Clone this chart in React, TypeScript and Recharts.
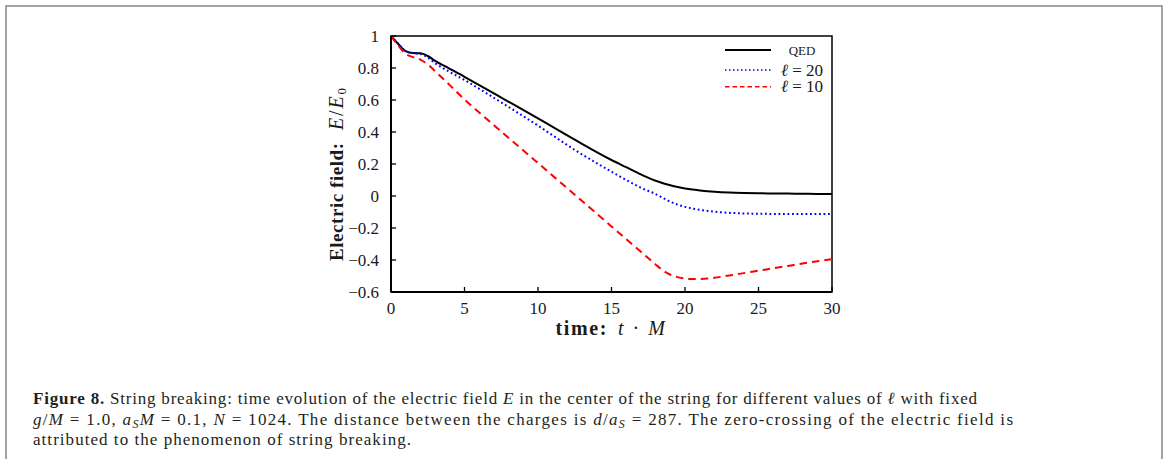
import React from 'react';
import { LineChart, Line, XAxis, YAxis, Legend, ReferenceArea } from 'recharts';

// ---- data ----
const times = [0, 0.5, 1, 1.5, 2, 2.5, 3, 4, 5, 6, 7.5, 10, 12.5, 15, 16, 17, 18, 18.5, 19, 19.5, 20, 20.5, 21, 22, 23, 24, 25, 26, 27, 28, 29, 30];
const qed = [1.0, 0.95, 0.905, 0.893, 0.892, 0.875, 0.845, 0.795, 0.745, 0.693, 0.615, 0.485, 0.352, 0.225, 0.18, 0.135, 0.095, 0.08, 0.067, 0.056, 0.047, 0.04, 0.035, 0.027, 0.022, 0.019, 0.017, 0.016, 0.015, 0.014, 0.013, 0.013];
const ell20 = [1.0, 0.95, 0.905, 0.892, 0.888, 0.865, 0.83, 0.775, 0.725, 0.67, 0.585, 0.44, 0.288, 0.152, 0.1, 0.052, 0.012, -0.012, -0.036, -0.054, -0.068, -0.078, -0.086, -0.098, -0.105, -0.109, -0.111, -0.112, -0.113, -0.113, -0.113, -0.113];
const ell10 = [1.0, 0.94, 0.888, 0.868, 0.852, 0.822, 0.78, 0.693, 0.603, 0.522, 0.403, 0.206, 0.008, -0.19, -0.27, -0.349, -0.428, -0.465, -0.492, -0.507, -0.516, -0.519, -0.519, -0.511, -0.497, -0.482, -0.467, -0.452, -0.437, -0.422, -0.408, -0.395];

const xTicks = [0, 5, 10, 15, 20, 25, 30];
const yTicks = [-0.6, -0.4, -0.2, 0, 0.2, 0.4, 0.6, 0.8, 1];

const seriesKeys = ['qed', 'ell20', 'ell10'];
const seriesNames = ['QED', 'ℓ = 20', 'ℓ = 10'];
const seriesColors = ['#000000', '#0000ff', '#ff0000'];
const seriesDash = ['', '1.8 2.7', '7.5 5'];
const legendDash = ['', '1.5 2.5', '4.5 3'];

const data = times.map((t, i) => ({ t, qed: qed[i], ell20: ell20[i], ell10: ell10[i] }));

const SERIF = '"Liberation Serif", "DejaVu Serif", serif';
const TXT = '#1a1a1a';

const fmt = (v: number) => String(v).replace('-', '−');

function XTick(props: any) {
  const { x, y, payload } = props;
  return (
    <g>
      <line x1={x} x2={x} y1={y} y2={y - 5} stroke="#000" strokeWidth={1.3} />
      <text x={x} y={y + 21.5} textAnchor="middle" fontFamily={SERIF} fontSize={17} fill={TXT}>
        {fmt(payload.value)}
      </text>
    </g>
  );
}

function YTick(props: any) {
  const { x, y, payload } = props;
  return (
    <g>
      <line x1={x} x2={x + 5} y1={y} y2={y} stroke="#000" strokeWidth={1.3} />
      <text x={x - 12} y={y + 5.5} textAnchor="end" fontFamily={SERIF} fontSize={17} fill={TXT}>
        {fmt(payload.value)}
      </text>
    </g>
  );
}

function XTitle(props: any) {
  const vb = props.viewBox || { x: 391, y: 292, width: 441, height: 53 };
  const cx = vb.x + vb.width / 2;
  const by = vb.y + 43;
  return (
    <g>
      <text x={cx - 56} y={by} fontFamily={SERIF} fontSize={20} fontWeight="bold" fill={TXT} textLength={51}>
        time:
      </text>
      <text x={cx + 6.5} y={by} fontFamily={SERIF} fontSize={20} fill={TXT} textLength={47}>
        <tspan fontStyle="italic">t</tspan>
        {' · '}
        <tspan fontStyle="italic">M</tspan>
      </text>
    </g>
  );
}

function YTitle(props: any) {
  const vb = props.viewBox || { x: 0, y: 36, width: 391, height: 256 };
  const bx = vb.x + vb.width - 48;
  const y0 = vb.y + 225;
  const y1 = vb.y + 94;
  return (
    <g>
      <text transform={`translate(${bx},${y0}) rotate(-90)`} x={0} y={0} fontFamily={SERIF} fontSize={19} fontWeight="bold" fill={TXT} textLength={118}>
        Electric field:
      </text>
      <text transform={`translate(${bx},${y1}) rotate(-90)`} x={0} y={0} fontFamily={SERIF} fontSize={20} fill={TXT} textLength={42}>
        <tspan fontStyle="italic">E</tspan>
        {'/'}
        <tspan fontStyle="italic">E</tspan>
        <tspan fontSize={13} dy={3}>0</tspan>
      </text>
    </g>
  );
}

function LegendBox() {
  const rows = [10, 30, 46.7];
  return (
    <svg width={130} height={58} style={{ display: 'block', overflow: 'visible' }}>
      {seriesNames.map((name, i) => (
        <g key={name}>
          <line x1={5} x2={51} y1={rows[i]} y2={rows[i]} stroke={seriesColors[i]} strokeWidth={i === 0 ? 2 : 1.5} strokeDasharray={legendDash[i] || undefined} />
          {i === 0 ? (
            <text x={82} y={rows[i] + 4.5} textAnchor="middle" fontFamily={SERIF} fontSize={13} fill={TXT}>
              {name}
            </text>
          ) : (
            <text x={82} y={rows[i] + 5.5} textAnchor="middle" fontFamily={SERIF} fontSize={17} fill={TXT}>
              <tspan fontStyle="italic">ℓ</tspan>
              {name.slice(1)}
            </text>
          )}
        </g>
      ))}
    </svg>
  );
}

function Caption() {
  const common = { fontFamily: SERIF, fontSize: 17, fill: '#231f20' } as any;
  return (
    <svg width={1165} height={459} style={{ position: 'absolute', left: 0, top: 0, pointerEvents: 'none' }}>
      <text x={33} y={404} {...common} textLength={944}>
        <tspan fontWeight="bold">Figure 8.</tspan>
        {' String breaking: time evolution of the electric field '}
        <tspan fontStyle="italic">E</tspan>
        {' in the center of the string for different values of '}
        <tspan fontStyle="italic">ℓ</tspan>
        {' with fixed'}
      </text>
      <text x={33} y={424.5} {...common} textLength={980}>
        <tspan fontStyle="italic">g</tspan>
        {'/'}
        <tspan fontStyle="italic">M</tspan>
        {' = 1.0, '}
        <tspan fontStyle="italic">a</tspan>
        <tspan fontStyle="italic" fontSize={12} dy={3}>S</tspan>
        <tspan fontStyle="italic" dy={-3}>M</tspan>
        {' = 0.1, '}
        <tspan fontStyle="italic">N</tspan>
        {' = 1024. The distance between the charges is '}
        <tspan fontStyle="italic">d</tspan>
        {'/'}
        <tspan fontStyle="italic">a</tspan>
        <tspan fontStyle="italic" fontSize={12} dy={3}>S</tspan>
        <tspan dy={-3}>{' = 287. The zero-crossing of the electric field is'}</tspan>
      </text>
      <text x={33} y={445} {...common} textLength={378}>
        attributed to the phenomenon of string breaking.
      </text>
    </svg>
  );
}

export default function App() {
  return (
    <div style={{ position: 'absolute', left: 0, top: 0, width: 1165, height: 459, overflow: 'hidden', background: '#fff' }}>
      <div
        style={{
          position: 'absolute',
          left: 5,
          top: 5,
          width: 1158,
          height: 520,
          boxSizing: 'border-box',
          border: '2px solid #a3a3a3',
        }}
      />
      <div style={{ position: 'absolute', left: 0, top: 0 }}>
        <LineChart width={1165} height={345} data={data} margin={{ top: 36, right: 333, bottom: 0, left: 0 }}>
          <ReferenceArea x1={0} x2={30} y1={-0.6} y2={1} fill="none" stroke="#000" strokeWidth={1.5} ifOverflow="visible" />
          <XAxis
            type="number"
            dataKey="t"
            domain={[0, 30]}
            ticks={xTicks}
            allowDataOverflow
            height={53}
            tickSize={0}
            tickMargin={0}
            tickLine={false}
            tick={<XTick />}
            axisLine={{ stroke: '#000', strokeWidth: 2 }}
            label={<XTitle />}
          />
          <YAxis
            type="number"
            domain={[-0.6, 1]}
            ticks={yTicks}
            allowDataOverflow
            width={391}
            tickSize={0}
            tickMargin={0}
            tickLine={false}
            tick={<YTick />}
            axisLine={{ stroke: '#000', strokeWidth: 2 }}
            label={<YTitle />}
          />
          <Legend
            layout="horizontal"
            verticalAlign="middle"
            align="center"
            content={() => <LegendBox />}
            wrapperStyle={{ left: 720, top: 40, width: 130, height: 58 }}
          />
          {seriesKeys.map((k, i) => (
            <Line
              key={k}
              type="monotone"
              dataKey={k}
              name={seriesNames[i]}
              stroke={seriesColors[i]}
              strokeWidth={2}
              strokeDasharray={seriesDash[i] || undefined}
              dot={false}
              activeDot={false}
              isAnimationActive={false}
            />
          ))}
        </LineChart>
      </div>
      <Caption />
    </div>
  );
}
